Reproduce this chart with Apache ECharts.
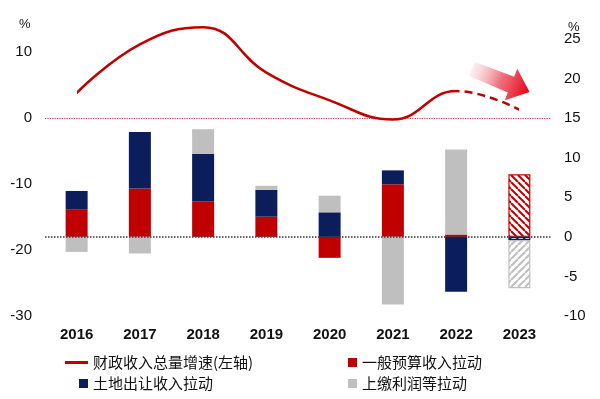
<!DOCTYPE html>
<html>
<head>
<meta charset="utf-8">
<script src="https://cdn.jsdelivr.net/npm/echarts@6/dist/echarts.min.js"></script>
<style>
  html, body { margin: 0; padding: 0; background: #fff; }
  #main { width: 600px; height: 399px; }
</style>
</head>
<body>
<div id="main"></div>
<script>
// 数据
const years = ['2016', '2017', '2018', '2019', '2020', '2021', '2022', '2023'];
const totalGrowth = [3.8, 11.2, 13.8, 6.9, 2.7, -0.2, 4.1, 1.3];     // 财政收入总量增速(左轴)
const forecastFrom = 6;                                               // 2022 之后为虚线(预测)
const budgetPull = [3.5, 6.1, 4.5, 2.55, -2.65, 6.65, 0.3, 7.9];      // 一般预算收入拉动
const landPull = [2.3, 7.15, 6.0, 3.4, 3.1, 1.75, -6.95, -0.4];      // 土地出让收入拉动
const profitPull = [-1.9, -2.1, 3.1, 0.5, 2.1, -8.55, 10.75, -6.1];  // 上缴利润等拉动
const leftTicks = { min: -30, max: 12, interval: 10 };
const rightTicks = { min: -10, max: 25, interval: 5 };

const RED = '#C00000';
const NAVY = '#0B1E5B';
const GREY = '#BFBFBF';
const CLEAR = 'rgba(0,0,0,0)';
const NUM_FONT = '"Liberation Sans", Arial, sans-serif';
const CJK_FONT = '"Noto Sans CJK SC", sans-serif';

// 斜线填充(2023 预测柱子)
function makeHatch (color, dir) {
  const s = 7;
  const c = document.createElement('canvas');
  c.width = s; c.height = s;
  const ctx = c.getContext('2d');
  ctx.fillStyle = '#fff';
  ctx.fillRect(0, 0, s, s);
  ctx.strokeStyle = color;
  ctx.lineWidth = 2;
  for (let x0 = -s; x0 <= s; x0 += s) {
    ctx.beginPath();
    if (dir === '\\') {
      ctx.moveTo(x0, 0); ctx.lineTo(x0 + s, s);
    } else {
      ctx.moveTo(x0 + s, 0); ctx.lineTo(x0, s);
    }
    ctx.stroke();
  }
  return { image: c, repeat: 'repeat' };
}

function withForecast (arr, color, dir) {
  return arr.map(function (v, i) {
    if (i !== arr.length - 1) return v;
    return {
      value: v,
      itemStyle: { color: makeHatch(color, dir), borderColor: color, borderWidth: 1.2 }
    };
  });
}

const myChart = echarts.init(document.getElementById('main'));

const legendText = { color: '#111', fontSize: 15, fontFamily: CJK_FONT };
const lastIdx = years.length - 1;

const option = {
  backgroundColor: '#fff',
  animation: false,
  grid: { left: 45, right: 49, top: 39, bottom: 83 },
  legend: [
    { data: [{ name: '财政收入总量增速(左轴)', icon: 'rect', itemStyle: { color: RED } }], left: 65, top: 355, padding: 0, itemWidth: 23, itemHeight: 3, textStyle: legendText },
    { data: [{ name: '土地出让收入拉动', icon: 'rect' }], left: 79, top: 376, padding: 0, itemWidth: 9, itemHeight: 9, textStyle: legendText },
    { data: [{ name: '一般预算收入拉动', icon: 'rect' }], left: 348, top: 355, padding: 0, itemWidth: 9, itemHeight: 9, textStyle: legendText },
    { data: [{ name: '上缴利润等拉动', icon: 'rect' }], left: 348, top: 376, padding: 0, itemWidth: 9, itemHeight: 9, textStyle: legendText }
  ],
  // 实线/虚线分段
  visualMap: [
    {
      show: false, type: 'piecewise', seriesIndex: 3, dimension: 0,
      pieces: [
        { gte: 0, lte: forecastFrom, color: RED },
        { gt: forecastFrom, lte: lastIdx, color: CLEAR }
      ],
      outOfRange: { color: CLEAR }
    },
    {
      show: false, type: 'piecewise', seriesIndex: 4, dimension: 0,
      pieces: [
        { gte: 0, lt: forecastFrom, color: CLEAR },
        { gte: forecastFrom, lte: lastIdx, color: RED }
      ],
      outOfRange: { color: CLEAR }
    }
  ],
  xAxis: {
    type: 'category',
    data: years,
    axisLine: { show: false },
    axisTick: { show: false },
    axisLabel: { color: '#111', fontSize: 15, fontWeight: 'bold', fontFamily: NUM_FONT, margin: 11 }
  },
  yAxis: [
    {
      type: 'value',
      min: leftTicks.min,
      max: leftTicks.max,
      interval: leftTicks.interval,
      axisLine: { show: false },
      axisTick: { show: false },
      splitLine: { show: false },
      axisLabel: {
        color: '#111', fontSize: 15, fontFamily: NUM_FONT, margin: 13,
        formatter: function (v) { return v % 10 === 0 ? String(v) : ''; }
      }
    },
    {
      type: 'value',
      min: rightTicks.min,
      max: rightTicks.max,
      interval: rightTicks.interval,
      axisLine: { show: false },
      axisTick: { show: false },
      splitLine: { show: false },
      axisLabel: { color: '#111', fontSize: 15, fontFamily: NUM_FONT, margin: 13 }
    }
  ],
  graphic: [
    { type: 'text', left: 19, top: 18, style: { text: '%', fill: '#111', font: '13px ' + NUM_FONT } },
    { type: 'text', left: 568, top: 21, style: { text: '%', fill: '#111', font: '13px ' + NUM_FONT } },
    {
      // 下行箭头
      type: 'polygon',
      x: 472, y: 69,
      rotation: -0.38,
      z: 10,
      shape: { points: [[0, -7.5], [42, -8.5], [42, -17], [62, 0], [42, 17], [42, 8.5], [0, 7.5]] },
      style: {
        fill: new echarts.graphic.LinearGradient(0, 0, 1, 0, [
          { offset: 0, color: 'rgba(240,170,180,0.2)' },
          { offset: 0.5, color: 'rgba(232,50,70,0.7)' },
          { offset: 1, color: '#E60012' }
        ])
      }
    }
  ],
  series: [
    {
      name: '一般预算收入拉动',
      type: 'bar',
      yAxisIndex: 1,
      stack: 'pull',
      barWidth: 22,
      itemStyle: { color: RED },
      data: withForecast(budgetPull, RED, '\\'),
      markLine: {
        silent: true,
        symbol: 'none',
        label: { show: false },
        lineStyle: { color: '#333', type: 'dotted', width: 1.5 },
        data: [{ yAxis: 0 }]
      }
    },
    {
      name: '土地出让收入拉动',
      type: 'bar',
      yAxisIndex: 1,
      stack: 'pull',
      barWidth: 22,
      itemStyle: { color: NAVY },
      data: withForecast(landPull, NAVY, '/')
    },
    {
      name: '上缴利润等拉动',
      type: 'bar',
      yAxisIndex: 1,
      stack: 'pull',
      barWidth: 22,
      itemStyle: { color: GREY },
      data: withForecast(profitPull, GREY, '/')
    },
    {
      name: '财政收入总量增速(左轴)',
      type: 'line',
      yAxisIndex: 0,
      smooth: 0.45,
      symbol: 'none',
      clip: false,
      z: 5,
      lineStyle: { width: 2.5 },
      data: totalGrowth,
      markLine: {
        silent: true,
        symbol: 'none',
        label: { show: false },
        lineStyle: { color: '#E0303A', type: 'dotted', width: 1.2 },
        data: [{ yAxis: 0 }]
      }
    },
    {
      name: '财政收入总量增速(左轴)',
      type: 'line',
      yAxisIndex: 0,
      smooth: 0.45,
      symbol: 'none',
      clip: false,
      z: 5,
      lineStyle: { width: 2.5, type: [8, 5] },
      data: totalGrowth
    }
  ]
};

myChart.setOption(option);

window.addEventListener('resize', function () {
  myChart.resize();
});
</script>
</body>
</html>
